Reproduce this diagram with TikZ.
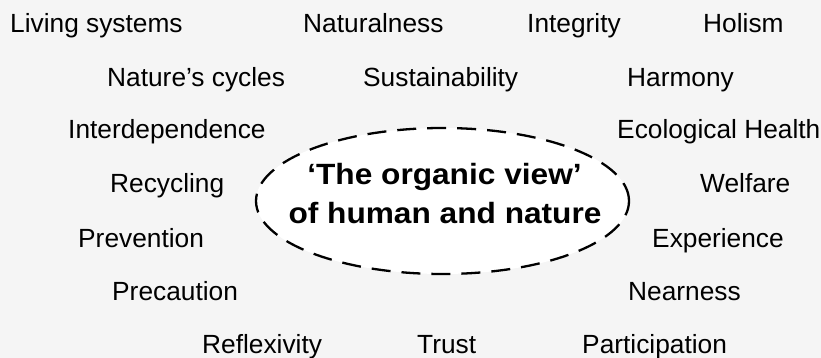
\documentclass[tikz,border=0pt]{standalone}
\usepackage{fontspec}
\setmainfont{Liberation Sans}
\newfontfamily\ctrfont[FakeStretch=1.08]{Liberation Sans Bold}
\usetikzlibrary{shapes.geometric}
\begin{document}
\begin{tikzpicture}[x=1pt,y=-1pt,
  word/.style={anchor=base west, inner sep=0pt, font=\fontsize{26.3}{30}\selectfont},
  ctrtext/.style={anchor=base, inner sep=0pt, font=\ctrfont\fontsize{29.3}{34}\selectfont},
  oval/.style={ellipse, draw=black, fill=white, line width=2.3pt, dash pattern=on 19pt off 11pt, minimum width=373pt, minimum height=146pt, inner sep=0pt}]
\fill[black!4] (0,0) rectangle (821,358);
\useasboundingbox (0,0) rectangle (821,358);
\node[oval] (view) at (442.5,201) {};
\node[ctrtext] (c1) at (444.5,185) {‘The organic view’};
\node[ctrtext] (c2) at (445,223) {of human and nature};
% row 1
\node[word] (living) at (10,33) {Living systems};
\node[word] (natural) at (303,33) {Naturalness};
\node[word] (integ) at (527,33) {Integrity};
\node[word] (holism) at (703,33) {Holism};
% row 2
\node[word] (cycles) at (107,87) {Nature’s cycles};
\node[word] (sust) at (363,87) {Sustainability};
\node[word] (harm) at (627,87) {Harmony};
% row 3
\node[word] (interdep) at (68,139) {Interdependence};
\node[word] (eco) at (617,139) {Ecological Health};
% row 4
\node[word] (recyc) at (110,193) {Recycling};
\node[word] (welf) at (700,193) {Welfare};
% row 5
\node[word] (prev) at (78,247) {Prevention};
\node[word] (exper) at (652,247) {Experience};
% row 6
\node[word] (precau) at (112,300) {Precaution};
\node[word] (near) at (628,300) {Nearness};
% row 7
\node[word] (reflex) at (202,353) {Reflexivity};
\node[word] (trust) at (417,353) {Trust};
\node[word] (partic) at (582,353) {Participation};
\end{tikzpicture}
\end{document}
